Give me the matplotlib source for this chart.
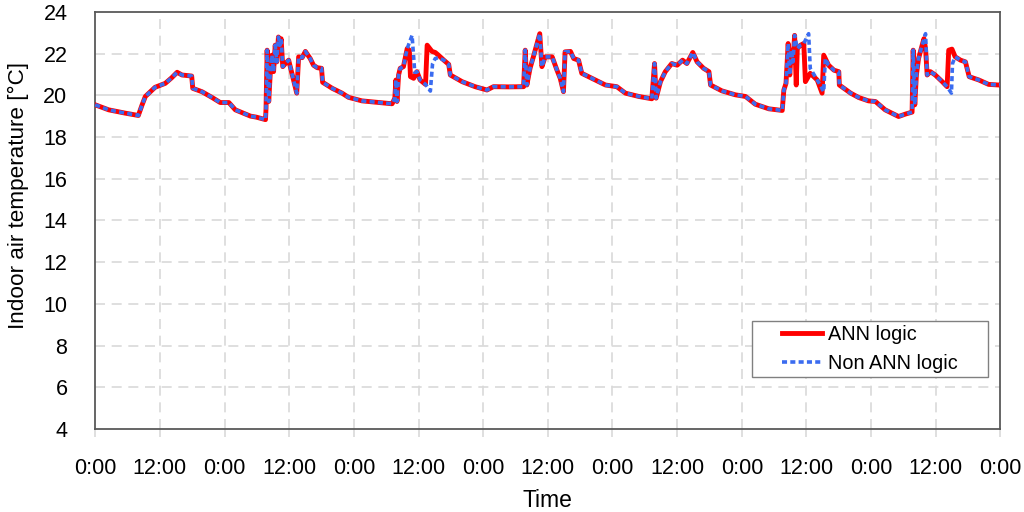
import numpy as np
import matplotlib
matplotlib.use("Agg")
import matplotlib.pyplot as plt
from matplotlib.patches import Rectangle

plt.rcParams['font.family'] = ['Liberation Sans', 'DejaVu Sans']

# hours since start of the week, indoor temperature in degC
ANN_HOURS = [0, 2.5, 5.6, 8.0, 8.7, 9.3, 11.1, 13.0, 14.2, 15.2, 16.1, 17.9, 18.1, 19.8, 21.7, 23.2,
             24.8, 26.0, 28.8, 29.9, 31.6, 31.7, 31.9, 32.2, 32.5, 32.8, 33.1, 33.4, 33.7, 34.0, 34.3,
             34.5, 34.8, 35.3, 35.9, 37.4, 37.75, 38.4, 39.0, 39.9, 40.5, 41.2, 42.0, 42.2, 44.0, 45.8,
             47.0, 49.5, 52.6, 55.1, 55.6, 55.8, 56.0, 56.3, 56.6, 57.2, 57.9, 58.3, 58.5, 59.1, 59.7,
             60.3, 61.3, 61.6, 62.5, 63.1, 63.7, 64.7, 65.6, 65.9, 68.1, 70.5, 72.7, 73.9, 76.7, 79.5,
             79.8, 80.1, 80.7, 81.4, 82.0, 82.5, 82.9, 83.5, 84.8, 85.7, 86.3, 86.9, 87.2, 88.2, 88.8,
             89.7, 90.3, 92.2, 94.7, 96.8, 98.4, 100.9, 103.3, 103.8, 104.1, 104.9, 105.8, 107.0, 108.0,
             109.0, 109.8, 110.9, 111.7, 112.9, 113.9, 114.2, 116.3, 118.8, 120.7, 122.5, 125.0, 127.5,
             127.8, 128.2, 128.6, 128.9, 129.2, 129.5, 129.8, 130.1, 130.3, 130.9, 131.5, 131.8, 132.7,
             134.0, 134.9, 135.2, 136.1, 137.1, 138.0, 138.1, 140.2, 141.7, 143.5, 144.8, 146.6, 149.1,
             150.4, 151.6, 151.8, 152.1, 152.4, 152.8, 153.3, 153.8, 154.1, 154.4, 155.0, 155.9, 157.2,
             158.1, 158.4, 159.0, 159.6, 160.6, 161.5, 162.2, 164.0, 165.8, 167.7, 168.0]
ANN_TEMP = [19.54, 19.30, 19.14, 19.03, 19.54, 19.94, 20.38, 20.57, 20.84, 21.10, 20.97, 20.92, 20.33, 20.17, 19.89, 19.65,
            19.65, 19.30, 19.00, 18.95, 18.83, 19.38, 22.16, 19.70, 21.13, 21.92, 21.13, 22.40, 21.60, 22.79, 22.40,
            22.71, 21.37, 21.52, 21.68, 20.10, 21.84, 21.80, 22.10, 21.76, 21.44, 21.32, 21.29, 20.62, 20.33, 20.10,
            19.90, 19.73, 19.65, 19.59, 19.86, 20.73, 19.70, 20.97, 21.29, 21.37, 22.24, 22.16, 20.89, 20.81, 21.13,
            20.73, 20.52, 22.40, 22.10, 22.05, 21.92, 21.68, 21.48, 20.97, 20.65, 20.41, 20.25, 20.41, 20.40, 20.41,
            22.16, 20.49, 21.29, 21.92, 22.48, 22.95, 21.37, 21.84, 21.84, 21.20, 20.81, 20.17, 22.08, 22.10, 21.76,
            21.68, 21.05, 20.81, 20.49, 20.41, 20.10, 19.94, 19.83, 21.52, 19.86, 20.65, 21.13, 21.52, 21.44,
            21.68, 21.52, 22.05, 21.60, 21.29, 21.13, 20.49, 20.21, 20.02, 19.94, 19.57, 19.35, 19.27,
            20.25, 20.57, 22.48, 20.97, 22.16, 21.60, 22.87, 20.49, 22.24, 22.40, 22.48, 20.65, 21.05,
            20.73, 20.10, 21.92, 21.44, 21.20, 21.13, 20.49, 20.10, 19.89, 19.73, 19.70, 19.30, 18.98,
            19.10, 19.19, 22.16, 19.54, 20.97, 21.76, 22.24, 22.71, 22.24, 20.97, 21.13, 20.97, 20.65,
            20.41, 22.16, 22.21, 21.84, 21.68, 21.60, 20.89, 20.73, 20.52, 20.49, 20.50]

NON_ANN_HOURS = [0, 2.5, 5.6, 8.0, 8.7, 9.3, 11.1, 13.0, 14.2, 15.2, 16.1, 17.9, 18.1, 19.8, 21.7, 23.2,
                 24.8, 26.0, 28.8, 29.9, 31.6, 31.7, 31.9, 32.2, 32.5, 32.8, 33.1, 33.4, 33.7, 34.0, 34.3,
                 34.5, 34.8, 35.3, 35.9, 37.4, 37.75, 38.4, 39.0, 39.9, 40.5, 41.2, 42.0, 42.2, 44.0, 45.8,
                 47.0, 49.5, 52.6, 55.1, 55.6, 55.8, 56.0, 56.3, 56.6, 57.2, 57.9, 58.8, 59.3, 59.7,
                 60.3, 61.3, 62.2, 62.6, 63.1, 63.7, 64.7, 65.6, 65.9, 68.1, 70.5, 72.7, 73.9, 76.7, 79.5,
                 79.8, 80.1, 80.7, 81.4, 82.0, 82.5, 82.9, 83.5, 84.8, 85.7, 86.3, 86.9, 87.2, 88.2, 88.8,
                 89.7, 90.3, 92.2, 94.7, 96.8, 98.4, 100.9, 103.3, 103.8, 104.1, 104.9, 105.8, 107.0, 108.0,
                 109.0, 109.8, 110.9, 111.7, 112.9, 113.9, 114.2, 116.3, 118.8, 120.7, 122.5, 125.0, 127.5,
                 127.8, 128.2, 128.6, 128.9, 129.2, 129.5, 129.8, 130.3, 130.9, 131.5, 132.4, 132.7,
                 134.0, 135.2, 135.5, 136.1, 137.1, 138.0, 138.1, 140.2, 141.7, 143.5, 144.8, 146.6, 149.1,
                 150.4, 151.6, 151.8, 152.1, 152.4, 152.8, 153.3, 154.1, 154.4, 155.0, 155.9, 157.2,
                 158.1, 158.9, 159.1, 159.6, 160.6, 161.5, 162.2, 164.0, 165.8, 167.7, 168.0]
NON_ANN_TEMP = [19.54, 19.30, 19.14, 19.03, 19.54, 19.94, 20.38, 20.57, 20.84, 21.10, 20.97, 20.92, 20.33, 20.17, 19.89, 19.65,
                19.65, 19.30, 19.00, 18.95, 18.83, 19.38, 22.16, 19.70, 21.13, 21.92, 21.13, 22.40, 21.60, 22.79, 22.40,
                22.71, 21.37, 21.52, 21.68, 20.10, 21.84, 21.80, 22.10, 21.76, 21.44, 21.32, 21.29, 20.62, 20.33, 20.10,
                19.90, 19.73, 19.65, 19.59, 19.86, 20.73, 19.70, 20.97, 21.29, 21.37, 22.24, 22.87, 21.10, 21.13,
                20.73, 20.52, 20.20, 21.50, 21.76, 21.80, 21.68, 21.48, 20.97, 20.65, 20.41, 20.25, 20.41, 20.40, 20.41,
                22.16, 20.49, 21.29, 21.92, 22.48, 22.95, 21.37, 21.84, 21.84, 21.20, 20.81, 20.17, 22.08, 22.10, 21.76,
                21.68, 21.05, 20.81, 20.49, 20.41, 20.10, 19.94, 19.83, 21.52, 19.86, 20.65, 21.13, 21.52, 21.44,
                21.68, 21.52, 22.05, 21.60, 21.29, 21.13, 20.49, 20.21, 20.02, 19.94, 19.57, 19.35, 19.27,
                20.25, 20.57, 22.48, 20.97, 22.16, 21.60, 22.87, 22.24, 22.40, 22.48, 22.95, 21.29,
                20.73, 20.17, 21.76, 21.44, 21.20, 21.13, 20.49, 20.10, 19.89, 19.73, 19.70, 19.30, 18.98,
                19.10, 19.19, 22.16, 19.54, 20.97, 21.76, 22.24, 22.95, 20.97, 21.13, 20.97, 20.65,
                20.41, 20.10, 21.52, 21.84, 21.68, 21.60, 20.89, 20.73, 20.52, 20.49, 20.50]

Y_TICKS = [4, 6, 8, 10, 12, 14, 16, 18, 20, 22, 24]
X_TICKS = list(range(0, 169, 12))
X_LABELS = ["0:00" if h % 24 == 0 else "12:00" for h in X_TICKS]

fig = plt.figure(figsize=(10.24, 5.12), dpi=100)
ax = fig.add_axes([0.093, 0.162, 0.884, 0.815])

grid_col = '#d9d9d9'
for y in Y_TICKS[1:-1]:
    if y == 20:
        ax.axhline(y, color=grid_col, lw=1.2, ls='-', zorder=0)
    else:
        ax.axhline(y, color=grid_col, lw=1.2, ls=(0, (6, 4)), zorder=0)
for x in X_TICKS[1:-1]:
    ax.axvline(x, color=grid_col, lw=1.2, ls=(0, (6, 4)), zorder=0)

ax.plot(ANN_HOURS, ANN_TEMP, color='#ff0000', lw=3.5, label='ANN logic', zorder=3)
ax.plot(NON_ANN_HOURS, NON_ANN_TEMP, color='#3b6cf0', lw=2.6, ls=(0, (1.4, 0.9)),
        label='Non ANN logic', zorder=4)

ax.set_xlim(0, 168)
ax.set_ylim(4, 24)
ax.set_xticks(X_TICKS)
ax.set_xticklabels(X_LABELS)
ax.set_yticks(Y_TICKS)
ax.tick_params(axis='x', direction='out', length=6, color=grid_col, width=1.2, pad=15, labelsize=15.5)
ax.tick_params(axis='y', length=0, pad=20, labelsize=15.5)
for s in ax.spines.values():
    s.set_color('#595959')
    s.set_linewidth(1.3)

ax.set_xlabel("Time", fontsize=16.5, labelpad=7)
ax.set_ylabel("Indoor air temperature [°C]", fontsize=16.2)
ax.yaxis.set_label_coords(-0.073, 0.56)

# legend box drawn by hand, Excel-style wide side margins
ax.add_patch(Rectangle((0.725, 0.125), 0.261, 0.135, transform=ax.transAxes,
                       facecolor='white', edgecolor='#808080', lw=1.0, zorder=5))
leg = ax.legend(loc='lower right', bbox_to_anchor=(0.970, 0.097), fontsize=14.3,
                frameon=False, handlelength=2.0, handletextpad=0.3,
                borderpad=0.3, labelspacing=0.5)
leg.set_zorder(6)

fig.savefig("out.png", dpi=100)
